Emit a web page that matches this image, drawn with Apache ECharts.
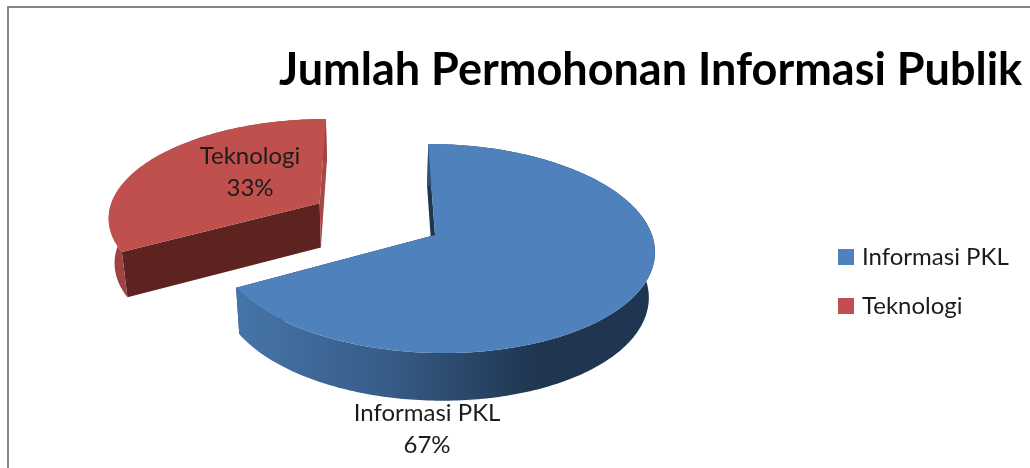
<!DOCTYPE html>
<html>
<head>
<meta charset="utf-8">
<style>
  html, body { margin: 0; padding: 0; background: #fff; }
  #chart { width: 1030px; height: 468px; }
</style>
</head>
<body>
<div id="chart"></div>
<script src="https://cdn.jsdelivr.net/npm/echarts@6/dist/echarts.min.js"></script>
<script>
const titleText = 'Jumlah Permohonan Informasi Publik';
const categories = ['Informasi PKL', 'Teknologi'];
const values = [67, 33];

const total = values.reduce((a, b) => a + b, 0);

// perspective of the tilted pie
const view = {
  vanishX: 376, offsetX: 59, apexY: 235,
  radiusX: 217, radiusY: 102.8, persp: 0.129,
  depth: 45, shrink: 0.978
};
const sliceLook = [
  {
    top: '#4f81bd', explode: 0,
    startWall: '#1f3550', endWall: '#1f3550',
    outer: new echarts.graphic.LinearGradient(240, 0, 655, 0, [
      { offset: 0, color: '#4674a8' },
      { offset: 0.35, color: '#375c88' },
      { offset: 0.72, color: '#1f3550' },
      { offset: 1, color: '#1f3550' }
    ], true),
    labelX: 427, labelY: 429
  },
  {
    top: '#c0504d', explode: 0.63,
    startWall: '#5c2321', endWall: '#a84744', outer: '#a04240',
    labelX: 250, labelY: 172
  }
];

function topPoint(u, v) {
  const w = 1 / (1 - view.persp * v);
  return [
    view.vanishX + (view.offsetX + view.radiusX * u) * w,
    view.apexY + view.radiusY * v * w
  ];
}

// same point on the underside of the slice
function lowPoint(u, v) {
  const p = topPoint(u, v);
  return [
    view.vanishX + (p[0] - view.vanishX) * view.shrink,
    p[1] + view.depth * (1 + 0.06 * v)
  ];
}

function renderSlice(params, api) {
  const i = params.seriesIndex;
  const look = sliceLook[i];
  const before = values.slice(0, i).reduce((a, b) => a + b, 0);
  const start = before / total * Math.PI * 2;
  const end = (before + api.value(0)) / total * Math.PI * 2;
  const mid = (start + end) / 2;
  const ex = look.explode * Math.sin(mid);
  const ey = -look.explode * Math.cos(mid);

  const steps = Math.ceil((end - start) / (Math.PI / 180));
  const rim = [];
  for (let s = 0; s <= steps; s++) {
    const a = start + (end - start) * s / steps;
    rim.push([ex + Math.sin(a), ey - Math.cos(a)]);
  }
  const apex = [ex, ey];
  const first = rim[0];
  const last = rim[rim.length - 1];
  const up = p => topPoint(p[0], p[1]);
  const low = p => lowPoint(p[0], p[1]);

  const poly = (points, fill) => ({
    type: 'polygon',
    shape: { points: points },
    style: { fill: fill }
  });

  return {
    type: 'group',
    children: [
      poly([up(apex), up(first), low(first), low(apex)], look.startWall),
      poly([up(apex), up(last), low(last), low(apex)], look.endWall),
      poly(rim.map(up).concat(rim.slice().reverse().map(low)), look.outer),
      poly([up(apex)].concat(rim.map(up)), look.top),
      {
        type: 'text',
        style: {
          x: look.labelX,
          y: look.labelY,
          text: categories[i] + '\n' + Math.round(api.value(0) / total * 100) + '%',
          fill: '#1c1c1c',
          font: '24px Lato',
          lineHeight: 32,
          align: 'center',
          verticalAlign: 'middle'
        }
      }
    ]
  };
}

const chart = echarts.init(document.getElementById('chart'));
chart.setOption({
  animation: false,
  backgroundColor: '#fff',
  title: {
    text: titleText,
    left: 274,
    top: 43,
    textStyle: { fontFamily: 'Lato', fontWeight: 'bold', fontSize: 45, color: '#000' }
  },
  legend: {
    orient: 'vertical',
    left: 838,
    top: 245,
    padding: 0,
    icon: 'rect',
    itemWidth: 16,
    itemHeight: 16,
    itemGap: 25,
    data: categories,
    textStyle: { fontFamily: 'Lato', fontSize: 24, color: '#1c1c1c', padding: [0, 0, 0, 3] }
  },
  graphic: [{
    type: 'rect',
    shape: { x: 8, y: 7, width: 1100, height: 600 },
    style: { fill: 'none', stroke: '#868686', lineWidth: 2 },
    silent: true
  }],
  series: categories.map((name, i) => ({
    type: 'custom',
    name: name,
    coordinateSystem: 'none',
    itemStyle: { color: sliceLook[i].top },
    renderItem: renderSlice,
    data: [[values[i]]]
  }))
});
</script>
</body>
</html>
